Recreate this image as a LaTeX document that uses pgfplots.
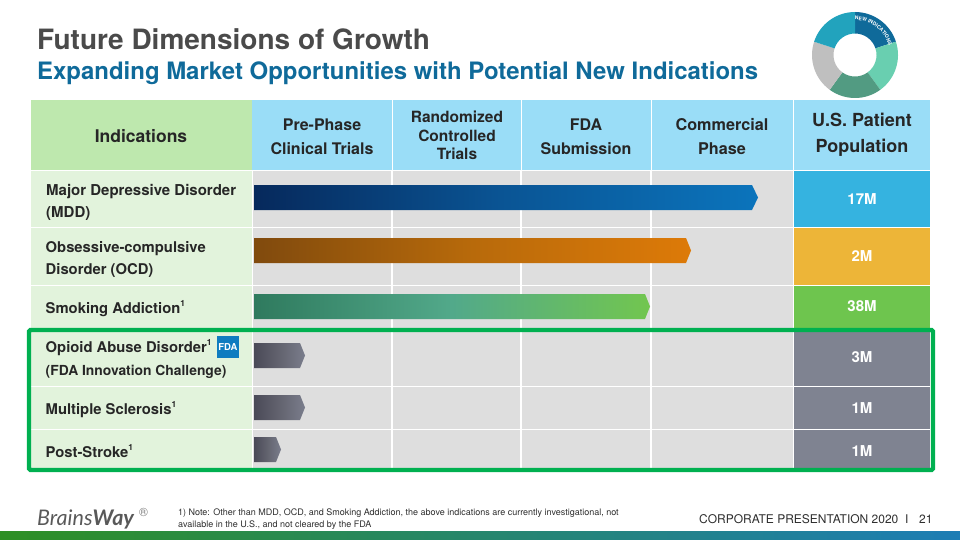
\documentclass[border=0pt]{standalone}
\usepackage{fontspec}
\setmainfont{TeX Gyre Heros}
\newfontfamily\logofont{Lato}
\usepackage{pgfplots}
\pgfplotsset{compat=1.18}
\usetikzlibrary{decorations.text}

\definecolor{hdrblue}{HTML}{9ADDF7}
\definecolor{hdrgreen}{HTML}{BEE8AE}
\definecolor{rowgreen}{HTML}{E2F3DC}
\definecolor{cellgray}{HTML}{DEDEDE}
\definecolor{txt}{HTML}{262626}
\definecolor{titlegray}{HTML}{4A4A4A}
\definecolor{titleblue}{HTML}{0F6A9A}
\definecolor{frame}{HTML}{00B050}
\definecolor{popgray}{HTML}{7F8391}
\definecolor{popblue}{HTML}{35B3E0}
\definecolor{poporange}{HTML}{EDB538}
\definecolor{popgreen}{HTML}{6EC54E}
\definecolor{fdablue}{HTML}{0F7CC0}
\definecolor{mddA}{HTML}{06295C}
\definecolor{mddB}{HTML}{0A5595}
\definecolor{mddC}{HTML}{0B74BC}
\definecolor{ocdA}{HTML}{804A0D}
\definecolor{ocdB}{HTML}{B86A0B}
\definecolor{ocdC}{HTML}{DD7A08}
\definecolor{smkA}{HTML}{2F7A5E}
\definecolor{smkB}{HTML}{52A98A}
\definecolor{smkC}{HTML}{72C64F}
\definecolor{newA}{HTML}{4A4A58}
\definecolor{newB}{HTML}{63646F}
\definecolor{newC}{HTML}{7A7D8C}
\definecolor{donutA}{HTML}{0F6A9A}
\definecolor{donutB}{HTML}{69CFB0}
\definecolor{donutC}{HTML}{529B82}
\definecolor{donutD}{HTML}{BFBFBF}
\definecolor{donutE}{HTML}{22A3BD}
\definecolor{foot}{HTML}{2E2E2E}
\definecolor{logogray}{HTML}{595959}
\definecolor{reggray}{HTML}{808080}
\definecolor{bandA}{HTML}{2E8F24}
\definecolor{bandB}{HTML}{1D7DB5}

% cell rectangle in picture pixels
\newcommand{\cell}[5]{\addplot[draw=none,fill=#5,forget plot] coordinates {(#1,#2) (#3,#2) (#3,#4) (#1,#4)} --cycle;}
% pentagon bar: top, middle, bottom, shoulder, tip, colour prefix
\newcommand{\phasebar}[6]{\addplot[draw=none,left color=#6A,right color=#6C,middle color=#6B,forget plot]
  coordinates {(254,#1) (#4,#1) (#5,#2) (#4,#3) (254,#3)} --cycle;}
\newcommand{\fs}[1]{\fontsize{#1}{#1}\selectfont}
\newcommand{\sone}{\raisebox{0.42em}{\fs{8.5}\bfseries 1}}
\newcommand{\lbl}[3]{\node[anchor=base west,inner sep=0pt,text=txt,font=\fs{15}\bfseries] at (axis cs:#1,#2) {#3};}
\newcommand{\ctr}[4][txt]{\node[anchor=base,inner sep=0pt,text=#1,font=\fs{#2}\bfseries] at (axis cs:#3) {#4};}
% y runs downward in this axis, so the arcs take negative angles
\newcommand{\donutpart}[3]{\fill[#3] (axis cs:855,55) ++(#1:43) arc (#1:#2:43) -- ++(#2+180:21.5) arc (#2:#1:21.5) -- cycle;}

\begin{document}
\begin{tikzpicture}
\begin{axis}[
    scale only axis,
    width=960pt, height=540pt,
    xmin=0, xmax=960, ymin=0, ymax=540,
    y dir=reverse,
    hide axis,
]
\path (axis cs:0,0) rectangle (axis cs:960,540);
% header row
\cell{31}{100}{252}{170}{hdrgreen}
\cell{252}{100}{391.5}{170}{hdrblue}
\cell{392.5}{100}{520.5}{170}{hdrblue}
\cell{521.5}{100}{650.5}{170}{hdrblue}
\cell{651.5}{100}{792.5}{170}{hdrblue}
\cell{793.5}{100}{930}{170}{hdrblue}

% indication column
\cell{31}{171}{252}{227}{rowgreen}
\cell{31}{228}{252}{285}{rowgreen}
\cell{31}{286}{252}{331}{rowgreen}
\cell{31}{331}{252}{386}{rowgreen}
\cell{31}{387}{252}{429}{rowgreen}
\cell{31}{430}{252}{470}{rowgreen}

% phase area
\cell{253}{171}{793}{227}{cellgray}
\cell{253}{228}{793}{285}{cellgray}
\cell{253}{286}{793}{331}{cellgray}
\cell{253}{331}{793}{386}{cellgray}
\cell{253}{387}{793}{429}{cellgray}
\cell{253}{430}{793}{470}{cellgray}
\draw[white,line width=1.2pt] (axis cs:392,171) -- (axis cs:392,470);
\draw[white,line width=1.2pt] (axis cs:521,171) -- (axis cs:521,470);
\draw[white,line width=1.2pt] (axis cs:651,171) -- (axis cs:651,470);

% patient population column
\cell{793.5}{171}{930}{227}{popblue}
\cell{793.5}{228}{930}{285}{poporange}
\cell{793.5}{286}{930}{331}{popgreen}
\cell{793.5}{331}{930}{386}{popgray}
\cell{793.5}{387}{930}{429}{popgray}
\cell{793.5}{430}{930}{470}{popgray}

% progress bars
\phasebar{185}{197.5}{210}{752}{758}{mdd}
\phasebar{238}{250.5}{263}{686}{691}{ocd}
\phasebar{294}{306.5}{319}{645}{650}{smk}
\phasebar{343}{355.5}{368}{300}{305}{new}
\phasebar{395}{407.5}{420}{300}{305}{new}
\phasebar{437}{449.5}{462}{276}{281}{new}

% green frame round the new indications
\draw[frame,line width=4.4pt,rounded corners=1.5pt] (axis cs:29,330) rectangle (axis cs:933,470);

% titles
\node[anchor=base west,inner sep=0pt,text=titlegray,font=\fs{28}\bfseries] at (axis cs:37,50) {Future Dimensions of Growth};
\node[anchor=base west,inner sep=0pt,text=titleblue,font=\fs{23.95}\bfseries] at (axis cs:37,80) {Expanding Market Opportunities with Potential New Indications};

% header text
\ctr{17.5}{141,143}{Indications}
\ctr{16}{322,130.5}{Pre-Phase}
\ctr{16}{322,154.5}{Clinical Trials}
\ctr{15.5}{457,123}{Randomized}
\ctr{15.5}{457,142}{Controlled}
\ctr{15.5}{457,160}{Trials}
\ctr{16}{586,130.5}{FDA}
\ctr{16}{586,154.5}{Submission}
\ctr{16.2}{722,130.5}{Commercial}
\ctr{16.2}{722,154.5}{Phase}
\ctr{18}{862,127}{U.S. Patient}
\ctr{18}{862,153}{Population}

% row labels
\lbl{46}{195}{Major Depressive Disorder}
\lbl{46}{217}{(MDD)}
\lbl{45.5}{252}{\fs{14.8}Obsessive-compulsive}
\lbl{45.5}{274}{\fs{14.8}Disorder (OCD)}
\lbl{45.5}{313}{\fs{14.8}Smoking Addiction\sone}
\lbl{45.5}{352}{\fs{14.8}Opioid Abuse Disorder\sone}
\lbl{45.5}{375}{\fs{13.85}(FDA Innovation Challenge)}
\lbl{45.5}{414}{\fs{14.8}Multiple Sclerosis\sone}
\lbl{45.5}{457}{\fs{14.8}Post-Stroke\sone}

% FDA badge
\cell{217}{336}{239}{358}{fdablue}
\node[text=white,inner sep=0pt,font=\fs{9.5}\bfseries] at (axis cs:228,347) {FDA};

% patient numbers
\ctr[white]{15}{862,204.5}{17M}
\ctr[white]{15}{862,261}{2M}
\ctr[white]{15}{862,311}{38M}
\ctr[white]{15}{862,362}{3M}
\ctr[white]{15}{862,413}{1M}
\ctr[white]{15}{862,456}{1M}

% donut
\donutpart{-90}{-18}{donutA}
\donutpart{-18}{54}{donutB}
\donutpart{54}{126}{donutC}
\donutpart{126}{198}{donutD}
\donutpart{198}{270}{donutE}
\path[decorate,decoration={text along path,text align=center,
    text={|\fs{5}\bfseries\color{white}|NEW INDICATIONS}}]
    (axis cs:855,55) ++(-88:35) arc (-88:-18:35);

% footer
\node[anchor=base west,inner sep=0pt,text=foot,font=\fs{9}] at (axis cs:178,515) {1) Note: Other than MDD, OCD, and Smoking Addiction, the above indications are currently investigational, not};
\node[anchor=base west,inner sep=0pt,text=foot,font=\fs{9}] at (axis cs:178,527) {available in the U.S., and not cleared by the FDA};
\node[anchor=base west,inner sep=0pt,text=foot,font=\fs{12}] at (axis cs:699,523.5) {CORPORATE PRESENTATION 2020\ \ I};
\node[anchor=base west,inner sep=0pt,text=foot,font=\fs{12}] at (axis cs:919,523.5) {21};
\node[anchor=base west,inner sep=0pt,text=logogray,font=\logofont\fs{21.5}] at (axis cs:37,525) {\textit{Brains\textbf{Way}}};
\node[anchor=base west,inner sep=0pt,text=reggray,font=\fs{12}] at (axis cs:139,516) {\textregistered};

% bottom band
\addplot[draw=none,left color=bandA,right color=bandB,forget plot] coordinates {(0,531.5) (960,531.5) (960,540) (0,540)} --cycle;
\end{axis}
\end{tikzpicture}
\end{document}
